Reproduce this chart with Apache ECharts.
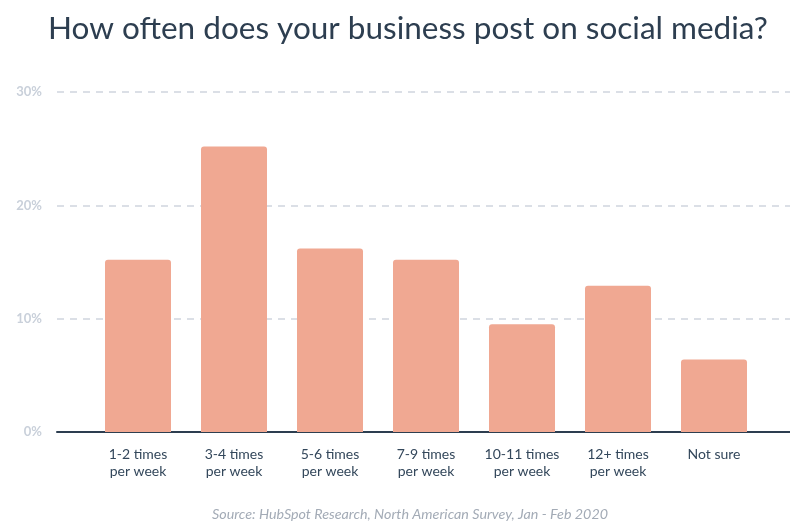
<!DOCTYPE html>
<html>
<head>
<meta charset="utf-8">
<script src="https://cdn.jsdelivr.net/npm/echarts@6/dist/echarts.min.js"></script>
<style>
  html, body { margin: 0; padding: 0; background: #ffffff; }
  #chart { width: 790px; height: 521px; }
</style>
</head>
<body>
<div id="chart"></div>
<script>
// Posting frequency survey results (% of respondents)
const categories = [
  '1-2 times\nper week',
  '3-4 times\nper week',
  '5-6 times\nper week',
  '7-9 times\nper week',
  '10-11 times\nper week',
  '12+ times\nper week',
  'Not sure'
];
const shares = [15.2, 25.2, 16.2, 15.2, 9.5, 12.9, 6.4];
const yTicks = [0, 10, 20, 30];

const chart = echarts.init(document.getElementById('chart'));

chart.setOption({
  backgroundColor: '#ffffff',
  animation: false,
  title: [
    {
      text: 'How often does your business post on social media?',
      left: 43,
      top: 8,
      textStyle: { fontFamily: 'Lato', fontSize: 31.5, fontWeight: 'normal', color: '#2d3e50' }
    },
    {
      text: 'Source: HubSpot Research, North American Survey, Jan - Feb 2020',
      left: 207,
      top: 502,
      textStyle: { fontFamily: 'Lato', fontSize: 14.3, fontStyle: 'italic', fontWeight: 'normal', color: '#a3abb6' }
    }
  ],
  grid: [
    // full-width frame: gridlines, y labels and baseline
    { left: 57, right: 0, top: 92, bottom: 89 },
    // bar area
    { left: 90, right: 28, top: 92, bottom: 89 }
  ],
  xAxis: [
    {
      gridIndex: 0,
      type: 'value',
      min: 0, max: 1,
      axisLine: { show: true, onZero: false, lineStyle: { color: '#2d3e50', width: 2 } },
      axisTick: { show: false },
      axisLabel: { show: false },
      splitLine: { show: false }
    },
    {
      gridIndex: 1,
      type: 'category',
      data: categories,
      axisLine: { show: false },
      axisTick: { show: false },
      axisLabel: {
        margin: 14,
        color: '#33475b',
        fontFamily: 'Lato',
        fontSize: 14,
        lineHeight: 17,
        interval: 0
      }
    }
  ],
  yAxis: [
    {
      gridIndex: 0,
      type: 'value',
      min: yTicks[0], max: yTicks[yTicks.length - 1], interval: 10,
      axisLine: { show: false },
      axisTick: { show: false },
      axisLabel: {
        formatter: '{value}%',
        margin: 15,
        color: '#c9d0da',
        fontFamily: 'Lato',
        fontWeight: 'bold',
        fontSize: 13
      },
      splitLine: {
        show: true,
        lineStyle: { color: '#cfd5de', width: 1.5, type: [7, 6] }
      }
    },
    {
      gridIndex: 1,
      type: 'value',
      min: yTicks[0], max: yTicks[yTicks.length - 1], interval: 10,
      show: false,
      splitLine: { show: false }
    }
  ],
  series: [
    {
      type: 'bar',
      xAxisIndex: 1,
      yAxisIndex: 1,
      data: shares,
      barWidth: 66,
      itemStyle: { color: '#f0a892', borderRadius: [3, 3, 0, 0] },
      z: 3
    }
  ]
});
</script>
</body>
</html>
